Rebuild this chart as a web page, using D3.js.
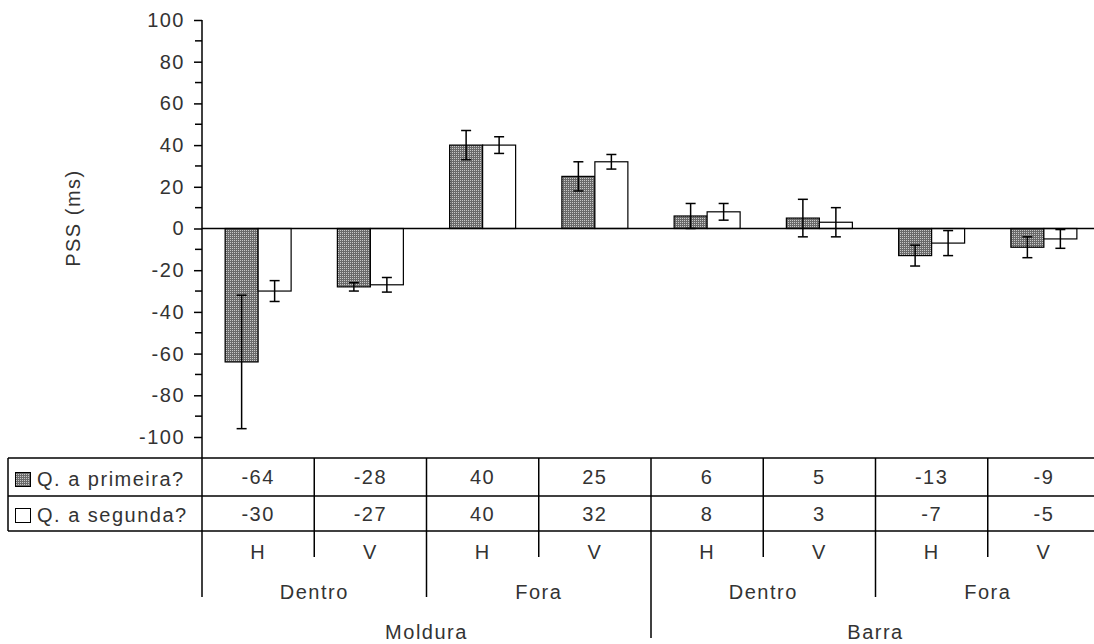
<!DOCTYPE html>
<html>
<head>
<meta charset="utf-8">
<script src="https://cdn.jsdelivr.net/npm/d3@7"></script>
<style>
  html, body { margin: 0; padding: 0; background: #fff; }
  svg { display: block; font-family: "Liberation Sans", Arial, sans-serif; }
  svg text { letter-spacing: 1.5px; }
</style>
</head>
<body>
<script>
// chart data
const conditions = ['H', 'V', 'H', 'V', 'H', 'V', 'H', 'V'];
const level2 = ['Dentro', 'Fora', 'Dentro', 'Fora'];
const level1 = ['Moldura', 'Barra'];
const seriesNames = ['Q. a primeira?', 'Q. a segunda?'];
const primeira = [-64, -28, 40, 25, 6, 5, -13, -9];
const segunda = [-30, -27, 40, 32, 8, 3, -7, -5];
const primeiraErr = [32, 2, 7, 7, 6, 9, 5, 5];
const segundaErr = [5, 3.5, 4, 3.5, 4, 7, 6, 4.5];
const yTicks = [-100, -80, -60, -40, -20, 0, 20, 40, 60, 80, 100];

const W = 1094, H = 644;
const left = 202, right = 1100;
const tableTop = 458, row1 = 496, row2 = 531;
const fs = 20;
const ink = '#333';

let svg = d3.select('body').append('svg')
    .attr('width', W)
    .attr('height', H);

// dotted fill for the first series
let pat = svg.append('defs').append('pattern')
    .attr('id', 'dots')
    .attr('width', 2).attr('height', 2)
    .attr('patternUnits', 'userSpaceOnUse');
pat.append('rect').attr('width', 2).attr('height', 2).attr('fill', '#6a6a6a');
pat.append('rect').attr('width', 1).attr('height', 1).attr('fill', '#c8c8c8');

let x = d3.scaleBand()
    .domain(d3.range(conditions.length))
    .range([left, right]);

let y = d3.scaleLinear()
    .domain([-100, 100])
    .range([437, 20]);

let barW = 33;

// y axis
let yAxis = d3.axisLeft(y)
    .tickValues(yTicks)
    .tickFormat(d => String(d))
    .tickSize(8)
    .tickPadding(9);
let gy = svg.append('g')
    .attr('transform', `translate(${left},0)`)
    .call(yAxis);
gy.select('.domain').remove();
gy.selectAll('.tick line').attr('stroke', '#000').attr('stroke-width', 1.5);
gy.selectAll('.tick text')
    .attr('font-size', fs)
    .attr('fill', ink)
    .attr('font-family', '"Liberation Sans", Arial, sans-serif');
// minor ticks
gy.selectAll('.minor').data(d3.range(-90, 100, 20)).enter().append('line')
    .attr('x1', -7).attr('x2', 0)
    .attr('y1', d => y(d)).attr('y2', d => y(d))
    .attr('stroke', '#000').attr('stroke-width', 1.5);
svg.append('line')
    .attr('x1', left).attr('x2', left)
    .attr('y1', y(100)).attr('y2', tableTop)
    .attr('stroke', '#000').attr('stroke-width', 1.5);

svg.append('text')
    .attr('transform', `translate(80,${y(5)}) rotate(-90)`)
    .attr('text-anchor', 'middle')
    .attr('font-size', fs)
    .attr('fill', ink)
    .text('PSS (ms)');

// bars
let series = [
    { vals: primeira, err: primeiraErr, fill: 'url(#dots)', off: -barW },
    { vals: segunda, err: segundaErr, fill: '#fff', off: 0 }
];

series.forEach(s => {
    let cx = i => x(i) + x.bandwidth() / 2 + s.off;
    svg.append('g').selectAll('rect').data(s.vals).enter().append('rect')
        .attr('x', (d, i) => cx(i))
        .attr('y', d => y(Math.max(0, d)))
        .attr('width', barW)
        .attr('height', d => Math.abs(y(d) - y(0)))
        .attr('fill', s.fill)
        .attr('stroke', '#000')
        .attr('stroke-width', 1.2);
});

// zero line
svg.append('line')
    .attr('x1', left).attr('x2', W)
    .attr('y1', y(0)).attr('y2', y(0))
    .attr('stroke', '#000').attr('stroke-width', 1.5);

// error bars
series.forEach(s => {
    let g = svg.append('g').attr('stroke', '#000').attr('stroke-width', 1.5);
    s.vals.forEach((v, i) => {
        let cx = x(i) + x.bandwidth() / 2 + s.off + barW / 2;
        let lo = y(v - s.err[i]), hi = y(v + s.err[i]);
        g.append('line').attr('x1', cx).attr('x2', cx).attr('y1', lo).attr('y2', hi);
        g.append('line').attr('x1', cx - 5).attr('x2', cx + 5).attr('y1', lo).attr('y2', lo);
        g.append('line').attr('x1', cx - 5).attr('x2', cx + 5).attr('y1', hi).attr('y2', hi);
    });
});

// data table
let tbl = svg.append('g').attr('stroke', '#000').attr('stroke-width', 1.5);
[tableTop, row1, row2].forEach(yy => {
    tbl.append('line').attr('x1', 8).attr('x2', W).attr('y1', yy).attr('y2', yy);
});
tbl.append('line').attr('x1', 8).attr('x2', 8).attr('y1', tableTop).attr('y2', row2);
d3.range(conditions.length + 1).forEach(i => {
    let xx = i < conditions.length ? x(i) : right;
    tbl.append('line').attr('x1', xx).attr('x2', xx).attr('y1', tableTop).attr('y2', row2);
    // category dividers below the table
    let bottom = i % 4 === 0 && i > 0 ? 638 : (i % 2 === 0 ? 597 : 557);
    tbl.append('line').attr('x1', xx).attr('x2', xx).attr('y1', row2).attr('y2', bottom);
});

let txt = svg.append('g')
    .attr('font-size', fs)
    .attr('fill', ink)
    .attr('text-anchor', 'middle');

[primeira, segunda].forEach((vals, r) => {
    txt.selectAll(null).data(vals).enter().append('text')
        .attr('x', (d, i) => x(i) + x.bandwidth() / 2)
        .attr('y', r === 0 ? 484 : 521)
        .text(d => d);
});

txt.selectAll(null).data(conditions).enter().append('text')
    .attr('x', (d, i) => x(i) + x.bandwidth() / 2)
    .attr('y', 559)
    .text(d => d);
txt.selectAll(null).data(level2).enter().append('text')
    .attr('x', (d, i) => x(i * 2) + x.bandwidth())
    .attr('y', 599)
    .text(d => d);
txt.selectAll(null).data(level1).enter().append('text')
    .attr('x', (d, i) => x(i * 4) + x.bandwidth() * 2)
    .attr('y', 639)
    .text(d => d);

// legend inside the table
seriesNames.forEach((name, i) => {
    let top = i === 0 ? 472 : 508;
    svg.append('rect')
        .attr('x', 15.5).attr('y', top + 0.5)
        .attr('width', 15).attr('height', 14)
        .attr('fill', i === 0 ? 'url(#dots)' : '#fff')
        .attr('stroke', '#000').attr('stroke-width', 1);
    svg.append('text')
        .attr('x', 37).attr('y', top + 14)
        .attr('font-size', fs)
        .attr('fill', ink)
        .text(name);
});
</script>
</body>
</html>
